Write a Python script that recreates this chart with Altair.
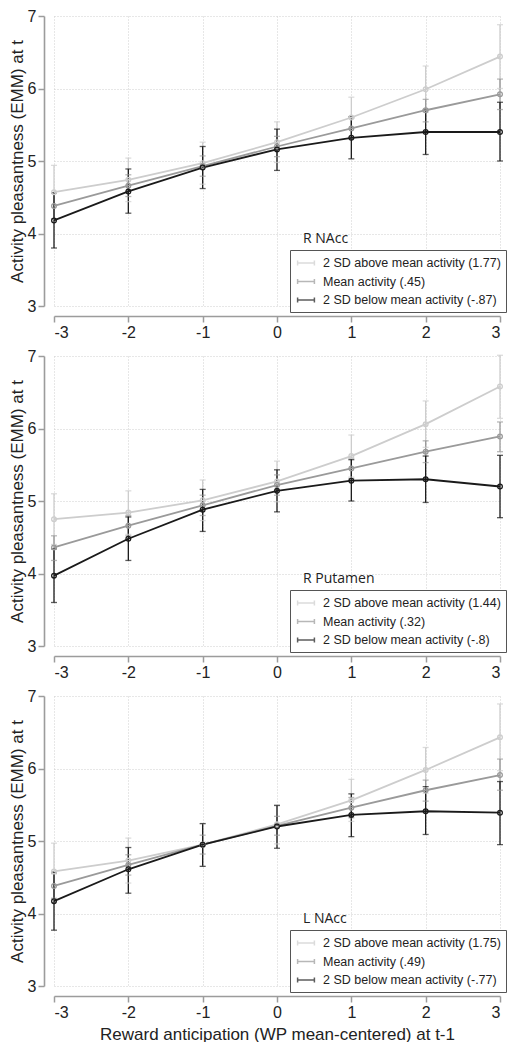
import altair as alt
import pandas as pd

x_vals = [-3, -2, -1, 0, 1, 2, 3]
regions = ["R NAcc", "R Putamen", "L NAcc"]
series_labels = [
    ["2 SD above mean activity (1.77)", "Mean activity (.45)", "2 SD below mean activity (-.87)"],
    ["2 SD above mean activity (1.44)", "Mean activity (.32)", "2 SD below mean activity (-.8)"],
    ["2 SD above mean activity (1.75)", "Mean activity (.49)", "2 SD below mean activity (-.77)"],
]
colors = ["#cdcdcd", "#9a9a9a", "#1a1a1a"]

# R NAcc
rnacc_above_est = [4.57, 4.74, 4.97, 5.26, 5.60, 5.99, 6.44]
rnacc_above_lo = [4.20, 4.44, 4.68, 4.98, 5.32, 5.67, 6.00]
rnacc_above_hi = [4.94, 5.04, 5.26, 5.54, 5.88, 6.31, 6.88]
rnacc_mean_est = [4.38, 4.66, 4.93, 5.20, 5.45, 5.70, 5.92]
rnacc_mean_lo = [4.20, 4.51, 4.79, 5.06, 5.31, 5.54, 5.71]
rnacc_mean_hi = [4.56, 4.81, 5.07, 5.34, 5.59, 5.85, 6.13]
rnacc_below_est = [4.18, 4.58, 4.91, 5.16, 5.32, 5.40, 5.40]
rnacc_below_lo = [3.80, 4.28, 4.62, 4.87, 5.03, 5.09, 5.00]
rnacc_below_hi = [4.56, 4.89, 5.20, 5.44, 5.61, 5.71, 5.81]

# R Putamen
rput_above_est = [4.75, 4.84, 5.01, 5.27, 5.62, 6.06, 6.58]
rput_above_lo = [4.40, 4.54, 4.73, 4.99, 5.33, 5.74, 6.14]
rput_above_hi = [5.10, 5.14, 5.29, 5.55, 5.91, 6.38, 7.01]
rput_mean_est = [4.36, 4.66, 4.94, 5.22, 5.45, 5.68, 5.89]
rput_mean_lo = [4.18, 4.52, 4.80, 5.08, 5.31, 5.53, 5.68]
rput_mean_hi = [4.52, 4.80, 5.08, 5.36, 5.59, 5.83, 6.09]
rput_below_est = [3.97, 4.48, 4.88, 5.14, 5.28, 5.30, 5.20]
rput_below_lo = [3.60, 4.18, 4.58, 4.85, 5.00, 4.98, 4.77]
rput_below_hi = [4.34, 4.78, 5.16, 5.43, 5.57, 5.62, 5.63]

# L NAcc
lnacc_above_est = [4.58, 4.73, 4.95, 5.23, 5.56, 5.98, 6.43]
lnacc_above_lo = [4.19, 4.42, 4.65, 4.96, 5.27, 5.66, 5.97]
lnacc_above_hi = [4.97, 5.04, 5.24, 5.50, 5.85, 6.29, 6.89]
lnacc_mean_est = [4.38, 4.67, 4.95, 5.21, 5.46, 5.70, 5.91]
lnacc_mean_lo = [4.21, 4.53, 4.82, 5.08, 5.32, 5.55, 5.70]
lnacc_mean_hi = [4.55, 4.81, 5.08, 5.34, 5.60, 5.84, 6.13]
lnacc_below_est = [4.17, 4.61, 4.95, 5.20, 5.36, 5.41, 5.39]
lnacc_below_lo = [3.77, 4.28, 4.65, 4.90, 5.06, 5.09, 4.95]
lnacc_below_hi = [4.57, 4.91, 5.24, 5.49, 5.65, 5.75, 5.82]

panel_series = [
    [(rnacc_above_est, rnacc_above_lo, rnacc_above_hi),
     (rnacc_mean_est, rnacc_mean_lo, rnacc_mean_hi),
     (rnacc_below_est, rnacc_below_lo, rnacc_below_hi)],
    [(rput_above_est, rput_above_lo, rput_above_hi),
     (rput_mean_est, rput_mean_lo, rput_mean_hi),
     (rput_below_est, rput_below_lo, rput_below_hi)],
    [(lnacc_above_est, lnacc_above_lo, lnacc_above_hi),
     (lnacc_mean_est, lnacc_mean_lo, lnacc_mean_hi),
     (lnacc_below_est, lnacc_below_lo, lnacc_below_hi)],
]

FONT = "Liberation Sans"
W, H = 446, 290
Y_TITLE = "Activity pleasantness (EMM) at t"
X_TITLE = "Reward anticipation (WP mean-centered) at t-1"
SYMBOL = "M-1.2,0H1.2M-1.2,-0.35V0.35M1.2,-0.35V0.35"
AXIS_COLOR = "#9c9c9c"


def make_panel(i, show_x_title):
    rows = []
    for s, (est, lo, hi) in enumerate(panel_series[i]):
        for k, xv in enumerate(x_vals):
            rows.append({"x": xv, "series": series_labels[i][s],
                         "est": est[k], "lo": lo[k], "hi": hi[k]})
    df = pd.DataFrame(rows)
    base = alt.Chart(df)

    xaxis = alt.Axis(values=x_vals, labelExpr="'' + datum.value", offset=10,
                     title=X_TITLE if show_x_title else None, titlePadding=6,
                     domain=True, domainColor=AXIS_COLOR, domainWidth=1.6,
                     domainOpacity=1,
                     ticks=True, tickColor=AXIS_COLOR, tickWidth=1.5, tickSize=6)
    yaxis = alt.Axis(values=[3, 4, 5, 6, 7], offset=10, title=Y_TITLE, titlePadding=1,
                     domain=True, domainColor=AXIS_COLOR, domainWidth=1.6,
                     domainOpacity=1,
                     ticks=True, tickColor=AXIS_COLOR, tickWidth=1.5, tickSize=6)
    xenc = alt.X("x:Q", scale=alt.Scale(domain=[-3, 3], nice=False, zero=False), axis=xaxis)
    yscale = alt.Scale(domain=[3, 7], nice=False, zero=False)
    cscale = alt.Scale(domain=series_labels[i], range=colors)

    legend = alt.Legend(orient="none", legendX=236, legendY=234, title=None,
                        padding=5, strokeColor="#555555", fillColor="white",
                        symbolType=SYMBOL, symbolSize=196, symbolStrokeWidth=1.5,
                        symbolOffset=3, labelOffset=9, rowPadding=3.5,
                        labelFont=FONT, labelFontSize=12.5, labelColor="#222222",
                        labelLimit=300)
    cenc = alt.Color("series:N", scale=cscale, legend=legend)

    rules = base.mark_rule(strokeWidth=1.3).encode(
        x=xenc, y=alt.Y("lo:Q", scale=yscale, axis=yaxis), y2="hi:Q", color=cenc)
    cap_lo = base.mark_tick(orient="horizontal", size=6, thickness=1.3).encode(
        x=xenc, y=alt.Y("lo:Q", scale=yscale, axis=yaxis), color=cenc)
    cap_hi = base.mark_tick(orient="horizontal", size=6, thickness=1.3).encode(
        x=xenc, y=alt.Y("hi:Q", scale=yscale, axis=yaxis), color=cenc)
    line = base.mark_line(strokeWidth=1.8).encode(
        x=xenc, y=alt.Y("est:Q", scale=yscale, axis=yaxis), color=cenc)
    pts = base.mark_point(filled=False, size=22, strokeWidth=1.3, opacity=1).encode(
        x=xenc, y=alt.Y("est:Q", scale=yscale, axis=yaxis), color=cenc)
    label = alt.Chart(pd.DataFrame({"region": [regions[i]]})).mark_text(
        align="left", baseline="middle", font="Open Sans", fontSize=14,
        color="#222222").encode(x=alt.value(249), y=alt.value(223), text="region:N")

    return alt.layer(rules, cap_lo, cap_hi, line, pts, label).properties(width=W, height=H)


chart = alt.vconcat(
    make_panel(0, False), make_panel(1, False), make_panel(2, True), spacing=8
).resolve_scale(color="independent").properties(padding=0).configure_view(
    stroke=None
).configure_axis(
    labelFont=FONT, labelFontSize=16, labelColor="#222222",
    labelPadding=2, titleFont=FONT, titleFontSize=17, titleFontWeight="normal",
    titleColor="#222222", gridColor="#cfcfcf", gridDash=[1, 2], gridWidth=1
)

chart.save("out.html", embed_options={"renderer": "svg", "actions": False})
